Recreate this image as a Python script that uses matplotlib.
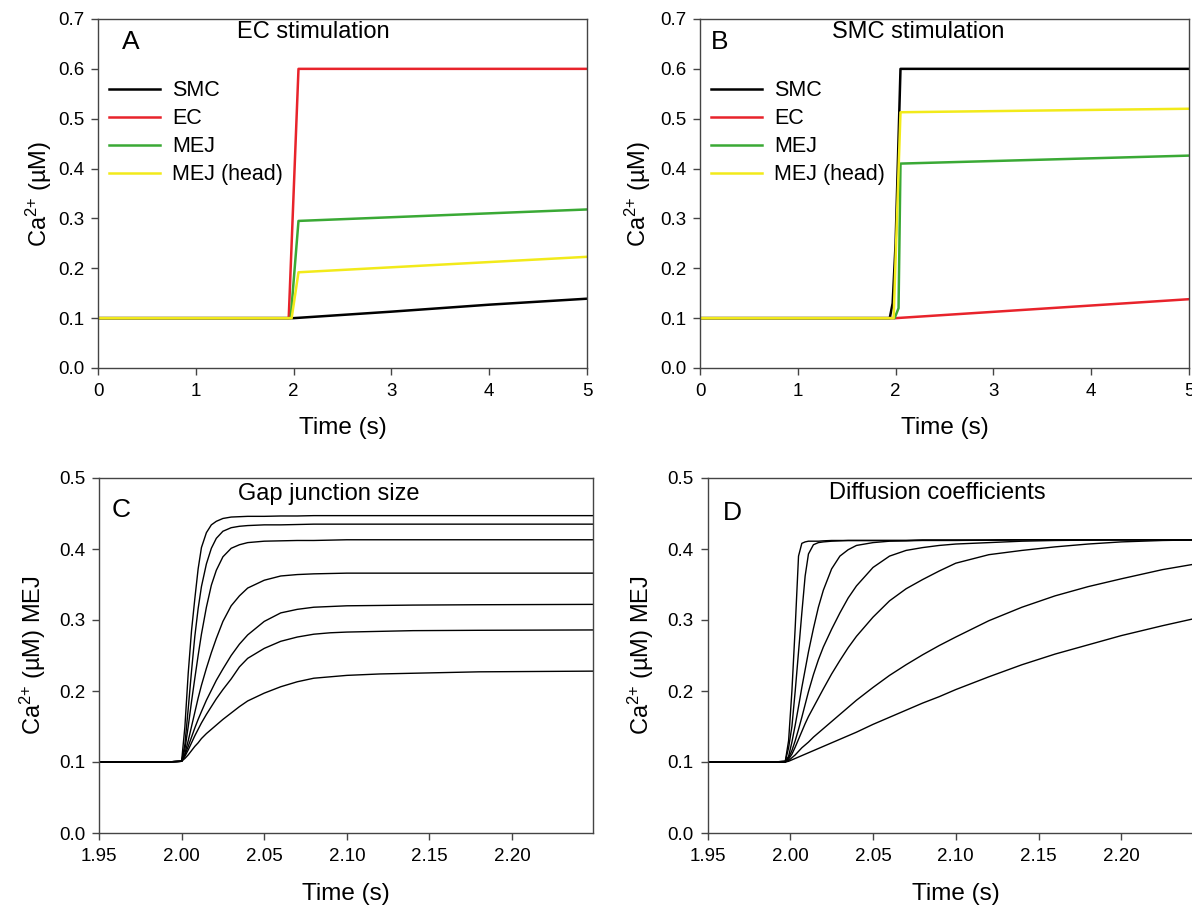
import matplotlib
matplotlib.use('Agg')
import matplotlib.pyplot as plt
from matplotlib.ticker import FormatStrFormatter

plt.rcParams['font.family'] = ['Liberation Sans', 'DejaVu Sans']
plt.rcParams['mathtext.fontset'] = 'custom'
plt.rcParams['mathtext.rm'] = 'Liberation Sans'
plt.rcParams['mathtext.it'] = 'Liberation Sans'

RED = '#e8232b'
GREEN = '#3aa935'
YELLOW = '#f2ea1a'

labels_ab = ['SMC', 'EC', 'MEJ', 'MEJ (head)']
colors_ab = ['black', RED, GREEN, YELLOW]

# panel A - EC stimulation
a_smc_t = [0, 2.0, 3.0, 4.0, 5.0]
a_smc_y = [0.1, 0.1, 0.113, 0.127, 0.139]
a_ec_t = [0, 1.95, 2.05, 5.0]
a_ec_y = [0.1, 0.1, 0.6, 0.6]
a_mej_t = [0, 1.97, 2.05, 5.0]
a_mej_y = [0.1, 0.1, 0.295, 0.318]
a_head_t = [0, 1.98, 2.05, 5.0]
a_head_y = [0.1, 0.1, 0.192, 0.223]

# panel B - SMC stimulation
b_smc_t = [0, 1.94, 1.97, 2.0, 2.05, 5.0]
b_smc_y = [0.1, 0.1, 0.13, 0.25, 0.6, 0.6]
b_ec_t = [0, 2.0, 5.0]
b_ec_y = [0.1, 0.1, 0.138]
b_mej_t = [0, 1.99, 2.03, 2.05, 5.0]
b_mej_y = [0.1, 0.1, 0.12, 0.41, 0.426]
b_head_t = [0, 1.98, 2.05, 5.0]
b_head_y = [0.1, 0.1, 0.513, 0.52]

# panel C - gap junction size, MEJ Ca2+ (one row per junction size)
c_t = [1.95, 1.99, 2.000, 2.002, 2.004, 2.006, 2.008, 2.010, 2.012, 2.015, 2.018, 2.021, 2.025,
       2.030, 2.035, 2.040, 2.050, 2.060, 2.070, 2.080, 2.090, 2.100, 2.120, 2.140, 2.180, 2.250]
c_y = [
    [0.100, 0.100, 0.101, 0.150, 0.225, 0.285, 0.330, 0.372, 0.402, 0.423, 0.434, 0.439, 0.443,
     0.445, 0.4455, 0.446, 0.446, 0.4465, 0.4465, 0.447, 0.447, 0.447, 0.447, 0.447, 0.447, 0.447],
    [0.100, 0.100, 0.101, 0.125, 0.175, 0.228, 0.277, 0.316, 0.347, 0.379, 0.401, 0.415, 0.425,
     0.430, 0.432, 0.433, 0.434, 0.434, 0.4345, 0.435, 0.435, 0.435, 0.435, 0.435, 0.435, 0.435],
    [0.100, 0.100, 0.101, 0.118, 0.150, 0.185, 0.218, 0.250, 0.280, 0.318, 0.349, 0.370, 0.389,
     0.401, 0.406, 0.409, 0.411, 0.4115, 0.412, 0.412, 0.4125, 0.413, 0.413, 0.413, 0.413, 0.413],
    [0.100, 0.100, 0.101, 0.112, 0.130, 0.150, 0.170, 0.190, 0.208, 0.232, 0.254, 0.274, 0.298,
     0.320, 0.334, 0.345, 0.356, 0.362, 0.364, 0.365, 0.3655, 0.366, 0.366, 0.366, 0.366, 0.366],
    [0.100, 0.100, 0.101, 0.110, 0.122, 0.135, 0.148, 0.160, 0.171, 0.187, 0.201, 0.215, 0.231,
     0.250, 0.266, 0.279, 0.298, 0.310, 0.315, 0.318, 0.319, 0.320, 0.3205, 0.321, 0.3215, 0.322],
    [0.100, 0.100, 0.101, 0.108, 0.117, 0.127, 0.137, 0.146, 0.155, 0.167, 0.178, 0.189, 0.202,
     0.217, 0.234, 0.246, 0.260, 0.270, 0.276, 0.280, 0.282, 0.283, 0.284, 0.285, 0.2855, 0.286],
    [0.100, 0.100, 0.101, 0.105, 0.110, 0.116, 0.122, 0.127, 0.133, 0.140, 0.146, 0.152, 0.160,
     0.169, 0.178, 0.186, 0.197, 0.206, 0.213, 0.218, 0.220, 0.222, 0.224, 0.225, 0.227, 0.228],
]

# panel D - diffusion coefficients, MEJ Ca2+ (one row per coefficient)
d_t = [1.95, 1.99, 1.997, 1.999, 2.001, 2.003, 2.005, 2.007, 2.009, 2.011, 2.014, 2.017, 2.020,
       2.025, 2.030, 2.035, 2.040, 2.050, 2.060, 2.070, 2.080, 2.090, 2.100, 2.120, 2.140, 2.160,
       2.180, 2.200, 2.225, 2.250]
d_y = [
    [0.100, 0.100, 0.101, 0.130, 0.200, 0.290, 0.390, 0.408, 0.410, 0.411, 0.411, 0.411, 0.4115,
     0.412, 0.412, 0.412, 0.412, 0.412, 0.412, 0.412, 0.4125, 0.4125, 0.4125, 0.4125, 0.413, 0.413,
     0.413, 0.413, 0.413, 0.413],
    [0.100, 0.100, 0.101, 0.120, 0.150, 0.200, 0.255, 0.310, 0.362, 0.393, 0.406, 0.409, 0.410,
     0.411, 0.4115, 0.412, 0.412, 0.412, 0.412, 0.412, 0.4125, 0.4125, 0.4125, 0.4125, 0.413, 0.413,
     0.413, 0.413, 0.413, 0.413],
    [0.100, 0.100, 0.101, 0.108, 0.128, 0.152, 0.178, 0.205, 0.230, 0.255, 0.288, 0.318, 0.342,
     0.372, 0.390, 0.399, 0.405, 0.409, 0.411, 0.4115, 0.412, 0.412, 0.412, 0.4125, 0.413, 0.413,
     0.413, 0.413, 0.413, 0.413],
    [0.100, 0.100, 0.100, 0.106, 0.116, 0.130, 0.146, 0.163, 0.181, 0.199, 0.223, 0.244, 0.262,
     0.287, 0.310, 0.331, 0.348, 0.374, 0.390, 0.398, 0.402, 0.405, 0.407, 0.409, 0.411, 0.412,
     0.4125, 0.413, 0.413, 0.413],
    [0.100, 0.100, 0.100, 0.104, 0.111, 0.121, 0.132, 0.143, 0.154, 0.164, 0.177, 0.190, 0.203,
     0.224, 0.243, 0.261, 0.277, 0.304, 0.327, 0.344, 0.357, 0.369, 0.380, 0.392, 0.398, 0.403,
     0.407, 0.410, 0.412, 0.413],
    [0.100, 0.100, 0.100, 0.102, 0.106, 0.110, 0.115, 0.120, 0.124, 0.128, 0.135, 0.141, 0.147,
     0.157, 0.167, 0.177, 0.187, 0.205, 0.222, 0.237, 0.251, 0.264, 0.276, 0.299, 0.318, 0.334,
     0.347, 0.358, 0.371, 0.381],
    [0.100, 0.100, 0.100, 0.101, 0.103, 0.105, 0.107, 0.109, 0.111, 0.113, 0.116, 0.119, 0.122,
     0.127, 0.132, 0.137, 0.142, 0.153, 0.163, 0.173, 0.183, 0.192, 0.202, 0.220, 0.237, 0.252,
     0.265, 0.278, 0.292, 0.305],
]

W, H = 1192, 910
CA_LABEL = 'Ca$^{2{+}}$ (µM)'


def px_axes(fig, left, top, right, bottom):
    # axes rectangle given in pixel coords of the 1192x910 picture
    return fig.add_axes([left / W, 1 - bottom / H, (right - left) / W, (bottom - top) / H])


def style_axes(ax, ylabel, ylabel_x):
    for sp in ax.spines.values():
        sp.set_color('#444444')
        sp.set_linewidth(1.0)
    ax.tick_params(axis='both', direction='out', length=5, width=1.0, color='#444444',
                   labelsize=13.5, top=False, right=False)
    ax.tick_params(axis='x', pad=6)
    ax.tick_params(axis='y', pad=5)
    ax.set_ylabel(ylabel, fontsize=17)
    ax.set_xlabel('Time (s)', fontsize=17.5)
    ax.yaxis.set_label_coords(ylabel_x, 0.5)
    ax.xaxis.set_label_coords(0.5, -0.14)
    ax.yaxis.set_major_formatter(FormatStrFormatter('%.1f'))


def add_legend(ax, x):
    ax.legend(loc='upper left', bbox_to_anchor=(x, 0.825), frameon=False, fontsize=15.5,
              handlelength=2.37, handletextpad=0.56, labelspacing=0.33, borderpad=0, borderaxespad=0)


fig = plt.figure(figsize=(W / 100, H / 100), dpi=100)

# A
axA = px_axes(fig, 98, 19, 587, 368)
for t, y, c, lab in zip([a_smc_t, a_ec_t, a_mej_t, a_head_t], [a_smc_y, a_ec_y, a_mej_y, a_head_y],
                        colors_ab, labels_ab):
    axA.plot(t, y, color=c, lw=1.8, label=lab)
axA.set_xlim(0, 5)
axA.set_ylim(0, 0.7)
axA.set_xticks([0, 1, 2, 3, 4, 5])
style_axes(axA, CA_LABEL, -0.09)
axA.text(0.44, 0.963, 'EC stimulation', transform=axA.transAxes, ha='center', va='center', fontsize=17)
axA.text(0.067, 0.934, 'A', transform=axA.transAxes, ha='center', va='center', fontsize=19)
add_legend(axA, 0.022)

# B
axB = px_axes(fig, 700, 19, 1189, 368)
for t, y, c, lab in zip([b_smc_t, b_ec_t, b_mej_t, b_head_t], [b_smc_y, b_ec_y, b_mej_y, b_head_y],
                        colors_ab, labels_ab):
    axB.plot(t, y, color=c, lw=1.8, label=lab)
axB.set_xlim(0, 5)
axB.set_ylim(0, 0.7)
axB.set_xticks([0, 1, 2, 3, 4, 5])
style_axes(axB, CA_LABEL, -0.096)
axB.text(0.446, 0.963, 'SMC stimulation', transform=axB.transAxes, ha='center', va='center', fontsize=17)
axB.text(0.04, 0.934, 'B', transform=axB.transAxes, ha='center', va='center', fontsize=19)
add_legend(axB, 0.022)

# C
axC = px_axes(fig, 99, 478, 593, 833)
for y in c_y:
    axC.plot(c_t, y, color='black', lw=1.0)
axC.set_xlim(1.95, 2.249)
axC.set_ylim(0, 0.5)
axC.set_xticks([1.95, 2.00, 2.05, 2.10, 2.15, 2.20])
axC.xaxis.set_major_formatter(FormatStrFormatter('%.2f'))
style_axes(axC, CA_LABEL + ' MEJ', -0.103)
axC.text(0.466, 0.955, 'Gap junction size', transform=axC.transAxes, ha='center', va='center', fontsize=17)
axC.text(0.045, 0.91, 'C', transform=axC.transAxes, ha='center', va='center', fontsize=19)

# D (right edge runs past the picture, as in the original)
axD = px_axes(fig, 707.5, 478, 1204, 833)
for y in d_y:
    axD.plot(d_t, y, color='black', lw=1.0)
axD.set_xlim(1.95, 2.25)
axD.set_ylim(0, 0.5)
axD.set_xticks([1.95, 2.00, 2.05, 2.10, 2.15, 2.20])
axD.xaxis.set_major_formatter(FormatStrFormatter('%.2f'))
style_axes(axD, CA_LABEL + ' MEJ', -0.103)
axD.text(0.462, 0.958, 'Diffusion coefficients', transform=axD.transAxes, ha='center', va='center', fontsize=17)
axD.text(0.05, 0.90, 'D', transform=axD.transAxes, ha='center', va='center', fontsize=19)

fig.savefig('out.png', dpi=100)
